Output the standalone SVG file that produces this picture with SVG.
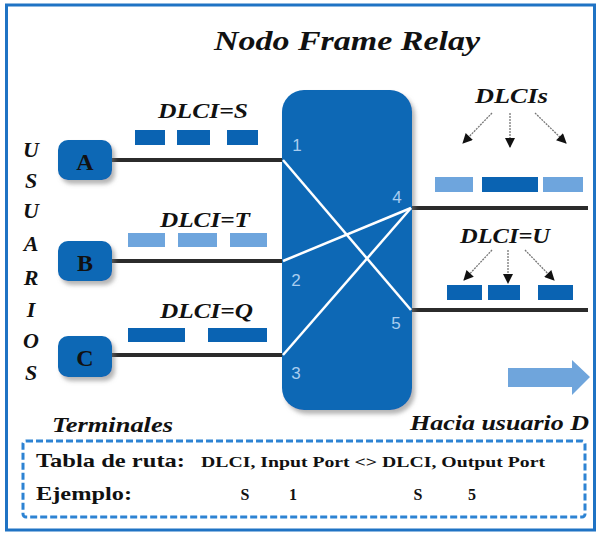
<svg xmlns="http://www.w3.org/2000/svg" width="600" height="534" viewBox="0 0 600 534">
<style>
.bi{font-family:"Liberation Serif","Times New Roman",serif;font-weight:bold;font-style:italic;fill:#111}
.b{font-family:"Liberation Serif","Times New Roman",serif;font-weight:bold;fill:#111}
.port{font-family:"Liberation Sans",Arial,sans-serif;font-size:17px;fill:#a9cdef}
.node{fill:#0867b5}
.dk{fill:#0a63b2}
.lt{fill:#6ea5dd}
.wire{stroke:#2b2b2b;stroke-width:4;fill:none}
.x{stroke:#ffffff;stroke-width:2.5;fill:none}
.ar{stroke:#777;stroke-width:1.3;stroke-dasharray:2 1;fill:none;marker-end:url(#ah)}
</style>
<defs>
<marker id="ah" viewBox="0 0 10 10" refX="9" refY="5" markerWidth="11" markerHeight="10" orient="auto" markerUnits="userSpaceOnUse">
<path d="M0,0 L10,5 L0,10 z" fill="#111"/>
</marker>
<filter id="sh" x="-20%" y="-20%" width="150%" height="150%">
<feDropShadow dx="3" dy="4" stdDeviation="2" flood-color="#777" flood-opacity="0.55"/>
</filter>
</defs>
<rect x="0" y="0" width="600" height="534" fill="#ffffff"/>
<rect x="6.5" y="5" width="588" height="525" fill="none" stroke="#1f73c4" stroke-width="3"/>
<text class="bi" x="214" y="50" font-size="28" textLength="266" lengthAdjust="spacingAndGlyphs">Nodo Frame Relay</text>
<g id="usuarios" class="bi" font-size="22" text-anchor="middle">
<text x="31" y="157">U</text>
<text x="31" y="188">S</text>
<text x="31" y="218">U</text>
<text x="31" y="251">A</text>
<text x="31" y="285">R</text>
<text x="31" y="317">I</text>
<text x="31" y="348">O</text>
<text x="31" y="380">S</text>
</g>
<g id="connectors">
<line class="wire" x1="112" y1="160" x2="283" y2="160"/>
<line class="wire" x1="112" y1="261" x2="283" y2="261"/>
<line class="wire" x1="112" y1="355" x2="283" y2="355"/>
<line class="wire" x1="411" y1="208" x2="588" y2="208"/>
<line class="wire" x1="411" y1="310" x2="588" y2="310"/>
</g>
<g id="nodeA"><rect class="node" x="58" y="140" width="54" height="40" rx="10" filter="url(#sh)"/><text class="b" x="85" y="170" font-size="24" text-anchor="middle">A</text></g>
<g id="nodeB"><rect class="node" x="58" y="241" width="54" height="40" rx="10" filter="url(#sh)"/><text class="b" x="85" y="271" font-size="24" text-anchor="middle">B</text></g>
<g id="nodeC"><rect class="node" x="58" y="336" width="54" height="41" rx="10" filter="url(#sh)"/><text class="b" x="85" y="366" font-size="24" text-anchor="middle">C</text></g>
<g id="relay">
<rect class="node" x="282" y="90" width="130" height="320" rx="22" filter="url(#sh)"/>
<line class="x" x1="283" y1="160" x2="411" y2="310"/>
<line class="x" x1="283" y1="261" x2="411" y2="208"/>
<line class="x" x1="283" y1="355" x2="411" y2="208"/>
<text class="port" x="297" y="151" text-anchor="middle">1</text>
<text class="port" x="296" y="286" text-anchor="middle">2</text>
<text class="port" x="296" y="379" text-anchor="middle">3</text>
<text class="port" x="397" y="203" text-anchor="middle">4</text>
<text class="port" x="396" y="329" text-anchor="middle">5</text>
</g>
<g id="frames">
<text class="bi" x="158" y="118" font-size="21" textLength="90" lengthAdjust="spacingAndGlyphs">DLCI=S</text>
<rect class="dk" x="135" y="130" width="30" height="15"/>
<rect class="dk" x="177" y="130" width="33" height="15"/>
<rect class="dk" x="227" y="130" width="31" height="15"/>
<text class="bi" x="160" y="227" font-size="21" textLength="90" lengthAdjust="spacingAndGlyphs">DLCI=T</text>
<rect class="lt" x="128" y="233" width="37" height="14"/>
<rect class="lt" x="178" y="233" width="39" height="14"/>
<rect class="lt" x="230" y="233" width="37" height="14"/>
<text class="bi" x="160" y="318" font-size="21" textLength="93" lengthAdjust="spacingAndGlyphs">DLCI=Q</text>
<rect class="dk" x="128" y="328" width="57" height="14"/>
<rect class="dk" x="208" y="328" width="59" height="14"/>
<text class="bi" x="475" y="103" font-size="21" textLength="73" lengthAdjust="spacingAndGlyphs">DLCIs</text>
<line class="ar" x1="492" y1="113" x2="463" y2="143"/>
<line class="ar" x1="510" y1="113" x2="510" y2="147"/>
<line class="ar" x1="535" y1="113" x2="566" y2="143"/>
<rect class="lt" x="435" y="177" width="38" height="15"/>
<rect class="dk" x="482" y="177" width="56" height="15"/>
<rect class="lt" x="543" y="177" width="40" height="15"/>
<text class="bi" x="460" y="243" font-size="21" textLength="90" lengthAdjust="spacingAndGlyphs">DLCI=U</text>
<line class="ar" x1="492" y1="250" x2="464" y2="280"/>
<line class="ar" x1="508" y1="250" x2="508" y2="283"/>
<line class="ar" x1="525" y1="250" x2="554" y2="280"/>
<rect class="dk" x="447" y="285" width="35" height="15"/>
<rect class="dk" x="488" y="285" width="32" height="15"/>
<rect class="dk" x="538" y="285" width="35" height="15"/>
</g>
<path d="M508,368 H572 V360 L590,377 L572,395 V387 H508 Z" fill="#6fa5dc"/>
<text class="bi" x="52" y="432" font-size="20" textLength="121" lengthAdjust="spacingAndGlyphs">Terminales</text>
<text class="bi" x="410" y="430" font-size="20" textLength="179" lengthAdjust="spacingAndGlyphs">Hacia usuario D</text>
<g id="tabla">
<rect x="23" y="441" width="562" height="76" rx="3" fill="none" stroke="#2d83d3" stroke-width="3" stroke-dasharray="7 3"/>
<text class="b" x="36" y="467" font-size="19" textLength="149" lengthAdjust="spacingAndGlyphs">Tabla de ruta:</text>
<text class="b" x="201" y="467" font-size="15" textLength="344" lengthAdjust="spacingAndGlyphs">DLCI, Input Port &lt;&gt; DLCI, Output Port</text>
<text class="b" x="36" y="500" font-size="19" textLength="96" lengthAdjust="spacingAndGlyphs">Ejemplo:</text>
<text class="b" x="245" y="500" font-size="16" text-anchor="middle">S</text>
<text class="b" x="293" y="500" font-size="16" text-anchor="middle">1</text>
<text class="b" x="418" y="500" font-size="16" text-anchor="middle">S</text>
<text class="b" x="472" y="500" font-size="16" text-anchor="middle">5</text>
</g>
</svg>
